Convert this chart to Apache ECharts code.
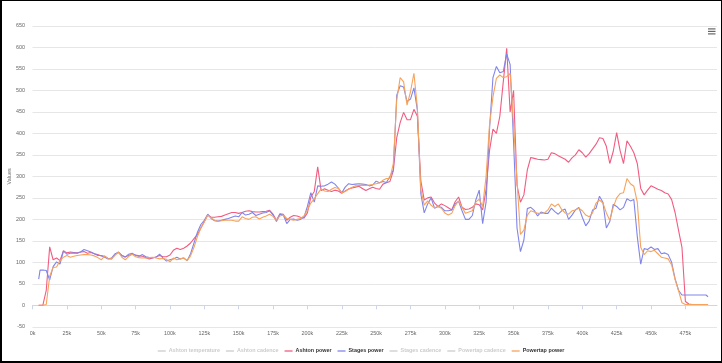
<!DOCTYPE html>
<html>
<head>
<meta charset="utf-8">
<script src="https://cdn.jsdelivr.net/npm/echarts@6/dist/echarts.min.js"></script>
<style>
html,body{margin:0;padding:0;background:#fff;}
#wrap{position:relative;width:722px;height:363px;}
#chart{position:absolute;left:0;top:0;width:722px;height:363px;}
#frame{position:absolute;left:0;top:0;width:722px;height:363px;box-sizing:border-box;border-style:solid;border-color:#000;border-width:1px 1px 2px 2px;pointer-events:none;}
</style>
</head>
<body>
<div id="wrap"><div id="chart"></div><div id="frame"></div></div>
<script>
// distance in thousands (k)
const distanceK = [
  4.5, 5.5, 7.5, 10, 12.5, 15, 17.5, 20, 22.5, 25,
  27.5, 30, 32.5, 35, 37.5, 40, 42.5, 45, 47.5, 50,
  52.5, 55, 57.5, 60, 62.5, 65, 67.5, 70, 72.5, 75,
  77.5, 80, 82.5, 85, 87.5, 90, 92.5, 95, 97.5, 100,
  102.5, 105, 107.5, 110, 112.5, 115, 117.5, 120, 122.5, 125,
  127.5, 130, 132.5, 135, 137.5, 140, 142.5, 145, 147.5, 150,
  152.5, 155, 157.5, 160, 162.5, 165, 167.5, 170, 172.5, 175,
  177.5, 180, 182.5, 185, 187.5, 190, 192.5, 195, 197.5, 200,
  202.5, 205, 207.5, 210, 212.5, 215, 217.5, 220, 222.5, 225,
  227.5, 230, 232.5, 235, 237.5, 240, 242.5, 245, 247.5, 250,
  252.5, 255, 257.5, 260, 262.5, 265, 267.5, 270, 272.5, 275,
  277.5, 280, 282.5, 285, 287.5, 290, 292.5, 295, 297.5, 300,
  302.5, 305, 307.5, 310, 312.5, 315, 317.5, 320, 322.5, 325,
  327.5, 330, 332.5, 335, 337.5, 340, 342.5, 345, 347.5, 350,
  352.5, 355, 357.5, 360, 362.5, 365, 367.5, 370, 372.5, 375,
  377.5, 380, 382.5, 385, 387.5, 390, 392.5, 395, 397.5, 400,
  402.5, 405, 407.5, 410, 412.5, 415, 417.5, 420, 422.5, 425,
  427.5, 430, 432.5, 435, 437.5, 440, 442.5, 445, 447.5, 450,
  452.5, 455, 457.5, 460, 462.5, 465, 467.5, 470, 472.5, 475,
  477.5, 480, 482.5, 485, 487.5, 490, 491.5
];

const ashtonPower = [
  0, 0, 0, 35, 136, 106, 110, 104, 127, 122,
  124, 123, 122, 124, 125, 121, 123, 120, 118, 115,
  114, 109, 108, 118, 124, 116, 113, 116, 119, 117,
  115, 114, 111, 108, 110, 113, 116, 113, 113, 117,
  128, 133, 130, 133, 138, 145, 155, 165, 180, 195,
  210, 205, 205, 206, 207, 210, 213, 216, 216, 214,
  216, 219, 220, 218, 217, 217, 218, 219, 221, 212,
  198, 213, 212, 198, 205, 209, 208, 205, 203, 215,
  252, 265, 322, 267, 271, 268, 265, 268, 266, 261,
  266, 271, 273, 275, 277, 272, 267, 271, 275, 272,
  270, 282, 285, 288, 313, 390, 425, 449, 432, 432,
  456, 440, 290, 245, 250, 252, 238, 230, 236, 232,
  227, 222, 241, 252, 228, 223, 224, 228, 236, 234,
  222, 270, 360, 410, 400, 440, 520, 598, 450, 500,
  280, 240, 257, 315, 344, 342, 340, 339, 338, 340,
  355, 353, 348, 344, 340, 333, 343, 350, 362, 355,
  345, 353, 364, 375, 390, 388, 370, 330, 358, 402,
  360, 330, 383, 370, 355, 330, 272, 257, 268, 278,
  274, 270, 267, 262, 259, 246, 216, 175, 135, 9,
  3, 2, 2, 2, 2, 2, 2
];

const stagesPower = [
  61, 82, 82, 81, 59, 90, 101, 96, 126, 119,
  121, 122, 121, 124, 130, 127, 124, 120, 116, 116,
  112, 108, 110, 120, 123, 116, 112, 119, 121, 116,
  114, 118, 113, 111, 111, 112, 119, 110, 103, 106,
  108, 112, 108, 110, 104, 120, 145, 170, 188, 198,
  212, 202, 197, 196, 198, 200, 202, 205, 208, 206,
  216, 210, 212, 216, 209, 212, 215, 216, 220, 210,
  195, 212, 210, 190, 200, 201, 198, 200, 205, 230,
  262, 240, 278, 277, 278, 282, 287, 282, 273, 262,
  275, 283, 281, 282, 283, 282, 281, 278, 280, 289,
  285, 288, 286, 300, 315, 489, 511, 508, 474, 480,
  506, 455, 260, 215, 236, 250, 226, 230, 228, 220,
  220, 222, 236, 242, 220, 200, 200, 209, 245, 268,
  190, 240, 410, 530, 556, 541, 544, 585, 560, 380,
  180, 125, 152, 225, 228, 221, 208, 217, 214, 214,
  226, 218, 212, 220, 224, 200, 210, 222, 228, 205,
  185, 196, 222, 226, 254, 240, 180, 195, 235, 230,
  222, 228, 248, 243, 246, 160, 96, 132, 130, 136,
  130, 132, 120, 122, 118, 100, 62, 35, 24, 24,
  24, 24, 24, 24, 24, 24, 20
];

const powertapPower = [
  0, 0, 0, 2, 68, 88, 89, 104, 112, 116,
  112, 114, 116, 117, 118, 118, 117, 115, 111, 106,
  115, 108, 108, 116, 124, 112, 106, 114, 119, 113,
  111, 110, 110, 111, 112, 110, 108, 109, 107, 101,
  110, 106, 108, 110, 104, 115, 135, 160, 180, 194,
  210, 203, 198, 195, 197, 198, 198, 198, 196, 196,
  206, 202, 200, 205, 206, 201, 205, 208, 212, 207,
  198, 208, 210, 202, 200, 198, 200, 202, 208, 222,
  238, 248, 260, 271, 266, 265, 270, 274, 272, 262,
  265, 270, 275, 278, 279, 279, 279, 280, 281, 283,
  285, 291, 295, 295, 330, 478, 530, 520, 466, 497,
  540, 460, 270, 233, 243, 233, 227, 230, 226, 215,
  210, 214, 232, 243, 228, 214, 217, 220, 240, 247,
  230, 300, 420, 485, 528, 536, 530, 532, 540, 420,
  290, 165, 175, 210, 220, 217, 214, 214, 215, 222,
  236, 230, 236, 223, 215, 212, 220, 222, 226, 220,
  210, 206, 215, 238, 245, 238, 215, 198, 228, 250,
  260, 262, 295, 283, 277, 240, 135, 118, 127, 125,
  128, 120, 112, 110, 108, 94, 60, 34, 6, 2,
  2, 2, 2, 2, 2, 2, 2
];

const xTickValues = [0, 25000, 50000, 75000, 100000, 125000, 150000, 175000, 200000, 225000,
  250000, 275000, 300000, 325000, 350000, 375000, 400000, 425000, 450000, 475000];

const seriesNames = ['Ashton temperature', 'Ashton cadence', 'Ashton power', 'Stages power',
  'Stages cadence', 'Powertap cadence', 'Powertap power'];

function pairs(vals) { return vals.map((v, i) => [distanceK[i] * 1000, v]); }

const FONT = '"Liberation Sans", Arial, Helvetica, sans-serif';
const chart = echarts.init(document.getElementById('chart'), null, {renderer: 'canvas'});

const hiddenSeries = (name, color) => ({name, type: 'line', data: [], showSymbol: false, color, lineStyle: {width: 1.2}});
const powerSeries = (name, color, vals) => ({
  name, type: 'line', data: pairs(vals), showSymbol: false, symbol: 'none', color,
  lineStyle: {width: 1.1, color}, animation: false
});

chart.setOption({
  animation: false,
  textStyle: {fontFamily: FONT},
  grid: {left: 32.5, right: 5, top: 26, bottom: 36.2, containLabel: false, outerBoundsMode: 'none'},
  xAxis: {
    type: 'value', min: 0, max: 498000,
    axisLine: {show: true, lineStyle: {color: '#ccd6eb', width: 1}},
    axisTick: {show: true, length: 4, lineStyle: {color: '#ccd6eb'}, customValues: xTickValues},
    splitLine: {show: false},
    axisLabel: {fontSize: 5.4, color: '#666', margin: 4.5, fontFamily: FONT,
      customValues: xTickValues, formatter: v => (v / 1000) + 'k'}
  },
  yAxis: {
    type: 'value', min: -50, max: 650, interval: 50,
    name: 'Values', nameLocation: 'middle', nameGap: 20, nameRotate: 90, nameMoveOverlap: false,
    nameTextStyle: {fontSize: 5.4, color: '#666', fontFamily: FONT},
    axisLine: {show: false}, axisTick: {show: false},
    splitLine: {show: true, lineStyle: {color: '#e6e6e6', width: 1}},
    axisLabel: {fontSize: 5.4, color: '#666', margin: 7.5, fontFamily: FONT}
  },
  legend: {
    data: seriesNames,
    left: 'center', top: 343.5,
    icon: 'rect', itemWidth: 8, itemHeight: 1.3, itemGap: 6,
    textStyle: {fontSize: 5.4, fontWeight: 'bold', color: '#333', fontFamily: FONT, padding: [0, 0, 0, -2]},
    inactiveColor: '#cccccc',
    selected: {
      'Ashton temperature': false, 'Ashton cadence': false,
      'Stages cadence': false, 'Powertap cadence': false
    }
  },
  graphic: [
    {type: 'rect', left: 708, top: 28.3, shape: {width: 7.5, height: 1.2}, style: {fill: '#666'}},
    {type: 'rect', left: 708, top: 30.8, shape: {width: 7.5, height: 1.2}, style: {fill: '#666'}},
    {type: 'rect', left: 708, top: 33.3, shape: {width: 7.5, height: 1.2}, style: {fill: '#666'}}
  ],
  series: [
    hiddenSeries('Ashton temperature', '#7cb5ec'),
    hiddenSeries('Ashton cadence', '#434348'),
    powerSeries('Ashton power', '#f15c80', ashtonPower),
    powerSeries('Stages power', '#8085e9', stagesPower),
    hiddenSeries('Stages cadence', '#90ed7d'),
    hiddenSeries('Powertap cadence', '#e4d354'),
    powerSeries('Powertap power', '#f7a35c', powertapPower)
  ]
});
</script>
</body>
</html>
